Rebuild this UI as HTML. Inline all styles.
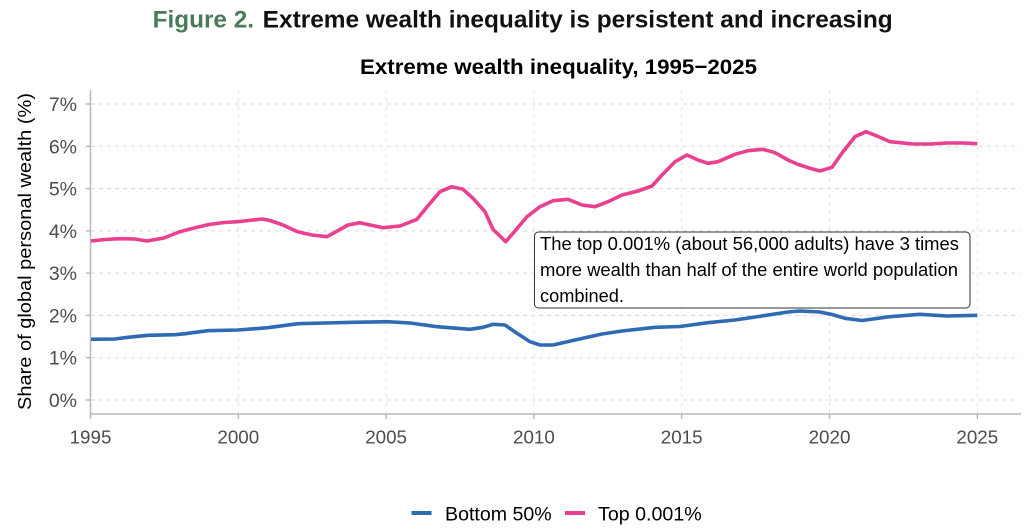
<!DOCTYPE html>
<html>
<head>
<meta charset="utf-8">
<style>
  html, body { margin: 0; padding: 0; background: #ffffff; }
  svg { display: block; }
  text { font-family: "Liberation Sans", Arial, sans-serif; }
</style>
</head>
<body>
<svg width="1024" height="531" viewBox="0 0 1024 531" xmlns="http://www.w3.org/2000/svg">
  <rect width="1024" height="531" fill="#ffffff"/>

  <!-- Titles -->
  <text x="152.7" y="27.5" font-size="24" font-weight="bold" fill="#4a7a5a" textLength="101.3" lengthAdjust="spacingAndGlyphs">Figure 2.</text>
  <text x="262.7" y="27.5" font-size="24" font-weight="bold" fill="#111111" textLength="630" lengthAdjust="spacingAndGlyphs">Extreme wealth inequality is persistent and increasing</text>
  <text x="360" y="74" font-size="21.5" font-weight="bold" fill="#000000" textLength="397" lengthAdjust="spacingAndGlyphs">Extreme wealth inequality, 1995−2025</text>

  <!-- Grid: horizontal -->
  <g stroke="#d9d9d9" stroke-width="1" stroke-dasharray="4,4">
    <line x1="91" y1="104" x2="1020" y2="104"/>
    <line x1="91" y1="146.3" x2="1020" y2="146.3"/>
    <line x1="91" y1="188.6" x2="1020" y2="188.6"/>
    <line x1="91" y1="230.9" x2="1020" y2="230.9"/>
    <line x1="91" y1="273.1" x2="1020" y2="273.1"/>
    <line x1="91" y1="315.4" x2="1020" y2="315.4"/>
    <line x1="91" y1="357.7" x2="1020" y2="357.7"/>
    <line x1="91" y1="400" x2="1020" y2="400"/>
  </g>
  <!-- Grid: vertical -->
  <g stroke="#e3e3e3" stroke-width="1" stroke-dasharray="4,4">
    <line x1="238.3" y1="90" x2="238.3" y2="413"/>
    <line x1="386.1" y1="90" x2="386.1" y2="413"/>
    <line x1="533.9" y1="90" x2="533.9" y2="413"/>
    <line x1="681.7" y1="90" x2="681.7" y2="413"/>
    <line x1="829.5" y1="90" x2="829.5" y2="413"/>
    <line x1="977.3" y1="90" x2="977.3" y2="413"/>
  </g>

  <!-- Axes -->
  <g stroke="#b8b8b8" stroke-width="1.5">
    <line x1="90.5" y1="90" x2="90.5" y2="414.5"/>
    <line x1="90" y1="414" x2="1021" y2="414"/>
    <!-- y ticks -->
    <line x1="86" y1="104" x2="90.5" y2="104"/>
    <line x1="86" y1="146.3" x2="90.5" y2="146.3"/>
    <line x1="86" y1="188.6" x2="90.5" y2="188.6"/>
    <line x1="86" y1="230.9" x2="90.5" y2="230.9"/>
    <line x1="86" y1="273.1" x2="90.5" y2="273.1"/>
    <line x1="86" y1="315.4" x2="90.5" y2="315.4"/>
    <line x1="86" y1="357.7" x2="90.5" y2="357.7"/>
    <line x1="86" y1="400" x2="90.5" y2="400"/>
    <!-- x ticks -->
    <line x1="90.5" y1="414" x2="90.5" y2="419"/>
    <line x1="238.3" y1="414" x2="238.3" y2="419"/>
    <line x1="386.1" y1="414" x2="386.1" y2="419"/>
    <line x1="533.9" y1="414" x2="533.9" y2="419"/>
    <line x1="681.7" y1="414" x2="681.7" y2="419"/>
    <line x1="829.5" y1="414" x2="829.5" y2="419"/>
    <line x1="977.3" y1="414" x2="977.3" y2="419"/>
  </g>

  <!-- Y tick labels -->
  <g font-size="19.5" fill="#4d4d4d" text-anchor="end">
    <text x="77" y="111">7%</text>
    <text x="77" y="153.3">6%</text>
    <text x="77" y="195.6">5%</text>
    <text x="77" y="237.9">4%</text>
    <text x="77" y="280.1">3%</text>
    <text x="77" y="322.4">2%</text>
    <text x="77" y="364.7">1%</text>
    <text x="77" y="407">0%</text>
  </g>

  <!-- X tick labels -->
  <g font-size="18.8" fill="#4d4d4d" text-anchor="middle">
    <text x="90.5" y="443.5">1995</text>
    <text x="238.3" y="443.5">2000</text>
    <text x="386.1" y="443.5">2005</text>
    <text x="533.9" y="443.5">2010</text>
    <text x="681.7" y="443.5">2015</text>
    <text x="829.5" y="443.5">2020</text>
    <text x="977.3" y="443.5">2025</text>
  </g>

  <!-- Y axis title -->
  <text transform="translate(31,410) rotate(-90)" x="0" y="0" font-size="18.5" fill="#000000" textLength="317" lengthAdjust="spacingAndGlyphs">Share of global personal wealth (%)</text>

  <!-- Series: Top 0.001% -->
  <polyline fill="none" stroke="#e9408f" stroke-width="3.6" stroke-linejoin="round" stroke-linecap="butt"
    points="91,241 105,239.5 120,238.7 135,239 147,241 164,238 179,232 194,228 209,224.5 224,222.5 238,221.7 253,220 262,219 270,220.5 283,225 297.5,231.7 312,235 327,236.7 348,225 360,222.7 370,225 383,227.7 400,226 417,219.3 430,203.3 440,191.7 451.7,186.7 463,189.3 473,198.3 485,211.7 493,229.3 505.7,241.7 513,233.3 527,216.7 540,206.7 553,200.7 568,199.3 582,205 595,206.7 608,201.7 622,195 638,191 652,186 662,175 675,161.7 687,155 698,160 708,163.3 718,161.7 735,154.3 748,150.7 763,149.3 775,152.7 788,160 797,164 810,168.3 820,171 832,167.3 843,151.7 855,136.7 866,131.7 877,136 890,141.7 913,144 930,144 947,143 963,143 977.3,143.7"/>

  <!-- Series: Bottom 50% -->
  <polyline fill="none" stroke="#2e6bb4" stroke-width="3.6" stroke-linejoin="round" stroke-linecap="butt"
    points="91,339.3 115,339 128,337.3 148,335.3 175,334.7 185,333.7 208,330.7 238,330 268,327.7 298,323.7 325,323 353,322.3 387,321.7 410,323 437,326.7 470,329.3 483,327.3 493,324.3 505,325 517,333.3 530,341.7 540,345 553,345 575,340 602,334 622,331 655,327.3 680,326.5 708,322.7 735,320 762,316 788,312 800,311 820,312 832,314.5 845,318.3 862,320.5 890,316.7 920,314.3 947,316 977.3,315.3"/>

  <!-- Annotation -->
  <rect x="534.5" y="232" width="435.5" height="76" rx="4" ry="4" fill="#ffffff" stroke="#333333" stroke-width="1"/>
  <g font-size="18" fill="#000000">
    <text x="540" y="250" textLength="419" lengthAdjust="spacingAndGlyphs">The top 0.001% (about 56,000 adults) have 3 times</text>
    <text x="540" y="276" textLength="418" lengthAdjust="spacingAndGlyphs">more wealth than half of the entire world population</text>
    <text x="540" y="302" textLength="84" lengthAdjust="spacingAndGlyphs">combined.</text>
  </g>

  <!-- Legend -->
  <line x1="411.5" y1="513" x2="431.5" y2="513" stroke="#2e6bb4" stroke-width="4"/>
  <text x="445" y="520.7" font-size="19.5" fill="#000000" textLength="106.7" lengthAdjust="spacingAndGlyphs">Bottom 50%</text>
  <line x1="565" y1="513" x2="585" y2="513" stroke="#e9408f" stroke-width="4"/>
  <text x="598" y="520.7" font-size="19.5" fill="#000000" textLength="103.7" lengthAdjust="spacingAndGlyphs">Top 0.001%</text>
</svg>
</body>
</html>
